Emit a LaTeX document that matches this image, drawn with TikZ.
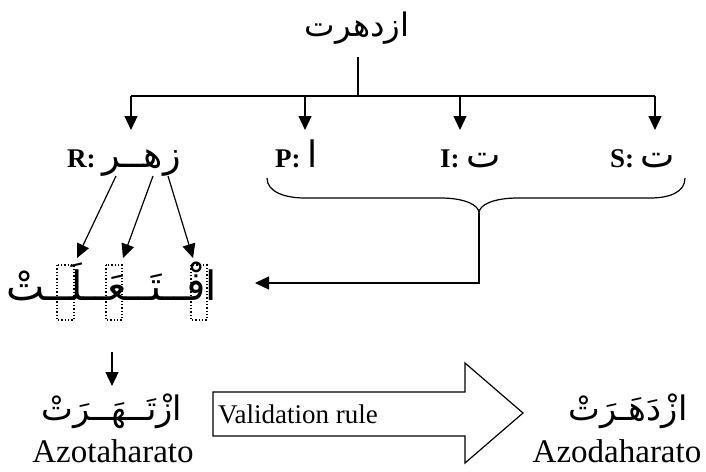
\documentclass[tikz,border=0pt]{standalone}
\usepackage{fontspec}
\setmainfont{Liberation Serif}
\newfontfamily\arabicfont[Script=Arabic,Scale=1.35]{DejaVu Sans}
\usetikzlibrary{arrows.meta}
\TeXXeTstate=1
\begin{document}
\begin{tikzpicture}[x=1pt,y=-1pt,
  ln/.style={line width=1.2pt},
  arr/.style={ln,-{Triangle[length=14pt,width=13pt]}},
  arlabel/.style={inner sep=0pt, font=\fontsize{25}{28}\selectfont},
  lbl/.style={inner sep=0pt, font=\fontsize{27}{30}\selectfont},
  dotbox/.style={draw, dotted, line width=1.3pt},
  latin/.style={inner sep=0pt, font=\fontsize{33}{36}\selectfont}]
\useasboundingbox (0,0) rectangle (706,471);
% top word
\node[inner sep=0pt, font=\fontsize{24}{28}\selectfont] (top) at (357,28) {\arabicfont\beginR ازدهرت\endR};
\coordinate (j) at (358,96);
\coordinate (jl) at (131,96);
\coordinate (jp) at (305,96);
\coordinate (ji) at (460,96);
\coordinate (js) at (655,96);
\draw[ln] (358,57) -- (j);
\draw[ln] (jl) -- (js);
% labels
\node[lbl, anchor=base west] (R) at (67,167) {\textbf{R:}~{\arabicfont\mdseries\beginR زهــر\endR}};
\node[lbl, anchor=base west] (P) at (275,167) {\textbf{P:}~{\arabicfont\mdseries\beginR ا\endR}};
\node[lbl, anchor=base west] (I) at (440,167) {\textbf{I:}~{\arabicfont\mdseries\beginR ت\endR}};
\node[lbl, anchor=base west] (S) at (610,167) {\textbf{S:}~{\arabicfont\mdseries\beginR ت\endR}};
\coordinate (tl) at (131,130);
\coordinate (tp) at (305,130);
\coordinate (ti) at (460,130);
\coordinate (ts) at (655,130);
\draw[arr] (jl) -- (tl);
\draw[arr] (jp) -- (tp);
\draw[arr] (ji) -- (ti);
\draw[arr] (js) -- (ts);
% brace
\coordinate (bl) at (267,178);
\coordinate (bm) at (479,213);
\coordinate (br) at (685,178);
\draw[ln] (bl) .. controls (267,192) and (285,198) .. (305,198)
  -- (440,198) .. controls (465,198) and (479,205) .. (bm)
  .. controls (479,205) and (493,198) .. (518,198)
  -- (650,198) .. controls (670,198) and (685,192) .. (br);
% pattern
\node[inner sep=0pt, anchor=base, font=\fontsize{30}{34}\selectfont] (pat) at (112,300) {\arabicfont\beginR افْــتَــعَــلَــتْ\endR};
\coordinate (pin) at (255,283);
\draw[arr] (bm) -- (479,283) -- (pin);
\draw[dotbox] (57,265) rectangle (74,320);
\draw[dotbox] (106,265) rectangle (122,320);
\draw[dotbox] (191,265) rectangle (207,320);
\coordinate (a1) at (77,258);
\coordinate (a2) at (123,258);
\coordinate (a3) at (193,258);
\draw[arr] (116,176) -- (a1);
\draw[arr] (153,176) -- (a2);
\draw[arr] (168,176) -- (a3);
% result
\coordinate (dtop) at (112,352);
\coordinate (dbot) at (112,386);
\draw[arr] (dtop) -- (dbot);
\node[arlabel, anchor=base] (w1) at (112,420) {\arabicfont\beginR ازْتَــهَــرَتْ\endR};
\node[latin, anchor=base] (l1) at (113,462) {Azotaharato};
\node[arlabel, anchor=base] (w2) at (628,420) {\arabicfont\beginR ازْدَهَـرَتْ\endR};
\node[latin, anchor=base] (l2) at (617,462) {Azodaharato};
% validation arrow
\draw[ln] (213,392) -- (465,392) -- (465,363) -- (523,413) -- (465,463) -- (465,436) -- (213,436) -- cycle;
\node[inner sep=0pt, anchor=west, font=\fontsize{27}{30}\selectfont] (vr) at (218,414) {Validation rule};
\end{tikzpicture}
\end{document}
